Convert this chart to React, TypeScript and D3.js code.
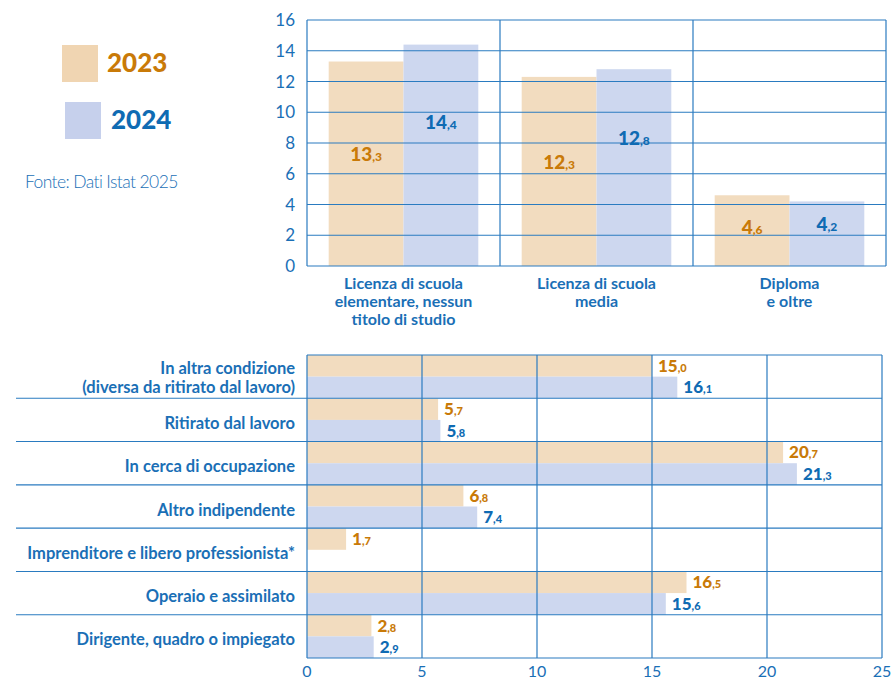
import React from "react";
import * as d3 from "d3";

const topCategories = [
  ["Licenza di scuola", "elementare, nessun", "titolo di studio"],
  ["Licenza di scuola", "media"],
  ["Diploma", "e oltre"],
];
const topValues2023 = [13.3, 12.3, 4.6];
const topValues2024 = [14.4, 12.8, 4.2];
const topTicks = [0, 2, 4, 6, 8, 10, 12, 14, 16];

const bottomCategories = [
  ["In altra condizione", "(diversa da ritirato dal lavoro)"],
  ["Ritirato dal lavoro"],
  ["In cerca di occupazione"],
  ["Altro indipendente"],
  ["Imprenditore e libero professionista*"],
  ["Operaio e assimilato"],
  ["Dirigente, quadro o impiegato"],
];
const bottomValues2023 = [15.0, 5.7, 20.7, 6.8, 1.7, 16.5, 2.8];
const bottomValues2024: (number | null)[] = [16.1, 5.8, 21.3, 7.4, null, 15.6, 2.9];
const bottomTicks = [0, 5, 10, 15, 20, 25];

const series = ["2023", "2024"];
const fill = { "2023": "#f2dcbf", "2024": "#cdd7ef" } as Record<string, string>;
const legendFill = { "2023": "#f0d5b2", "2024": "#c6d0ec" } as Record<string, string>;
const textCol = { "2023": "#c97a08", "2024": "#0f6bb3" } as Record<string, string>;
const grid = "#2a7bc0";
const blue = "#1a6fb6";
const FONT = "Lato, 'Open Sans', sans-serif";

function ValueLabel({ v, x, y, anchor, big, small, color }: any) {
  const s = v.toFixed(1).split(".");
  return (
    <text x={x} y={y} textAnchor={anchor} fill={color} fontFamily={FONT} fontWeight={900} fontSize={big}>
      <tspan>{s[0]}</tspan>
      <tspan fontSize={small}>{"," + s[1]}</tspan>
    </text>
  );
}

export default function App() {
  const yTop = d3.scaleLinear().domain([0, 16]).range([266, 20]);
  const xTop = d3.scaleBand<number>().domain(d3.range(topCategories.length)).range([307, 886]).padding(0);
  const xInner = d3.scaleBand<string>().domain(series).range([0, xTop.bandwidth()]).paddingInner(0).paddingOuter(0.29);
  const labelFrac = { "2023": 0.55, "2024": 0.65 } as Record<string, number>;

  const xBot = d3.scaleLinear().domain([0, 25]).range([307, 882]);
  const yBot = d3.scaleBand<number>().domain(d3.range(bottomCategories.length)).range([355, 658]).padding(0);
  const yInner = d3.scaleBand<string>().domain(series).range([0, yBot.bandwidth()]).padding(0);

  const topData = [topValues2023, topValues2024];
  const botData = [bottomValues2023, bottomValues2024];

  return (
    <div style={{ position: "fixed", left: 0, top: 0 }}>
      <svg width={894} height={679} style={{ display: "block", background: "#fff" }}>
        {/* Legend */}
        <rect x={62} y={45} width={36} height={37} fill={legendFill["2023"]} />
        <text x={107} y={72} fill={textCol["2023"]} fontFamily={FONT} fontWeight={900} fontSize={26}>2023</text>
        <rect x={65} y={102} width={36} height={37} fill={legendFill["2024"]} />
        <text x={111} y={129} fill={textCol["2024"]} fontFamily={FONT} fontWeight={900} fontSize={26}>2024</text>
        <text x={25} y={188} fill={blue} fontFamily={FONT} fontWeight={300} fontSize={17.5} letterSpacing={-0.6}>Fonte: Dati Istat 2025</text>

        {/* Top chart bars */}
        {topData.map((vals, si) =>
          vals.map((v, i) => (
            <rect key={`tb${si}-${i}`} x={xTop(i)! + xInner(series[si])!} y={yTop(v)} width={xInner.bandwidth()} height={yTop(0) - yTop(v)} fill={fill[series[si]]} />
          ))
        )}
        {topTicks.map((t) => (
          <line key={`tg${t}`} x1={307} x2={886} y1={yTop(t)} y2={yTop(t)} stroke={grid} strokeWidth={1.1} />
        ))}
        {d3.range(topCategories.length + 1).map((i) => {
          const x = i < topCategories.length ? xTop(i)! : xTop.range()[1];
          return <line key={`tv${i}`} x1={x} x2={x} y1={yTop(16)} y2={yTop(0)} stroke={grid} strokeWidth={1.2} />;
        })}
        {topTicks.map((t) => (
          <text key={`tt${t}`} x={295} y={yTop(t) + 6} textAnchor="end" fill={blue} fontFamily={FONT} fontSize={17}>{t}</text>
        ))}
        {topData.map((vals, si) =>
          vals.map((v, i) => (
            <ValueLabel key={`tl${si}-${i}`} v={v} x={xTop(i)! + xInner(series[si])! + xInner.bandwidth() / 2} y={yTop(v * labelFrac[series[si]]) + 7} anchor="middle" big={19} small={12} color={textCol[series[si]]} />
          ))
        )}
        {topCategories.map((lines, i) => (
          <text key={`tc${i}`} x={xTop(i)! + xTop.bandwidth() / 2} y={289} textAnchor="middle" fill={blue} fontFamily={FONT} fontWeight={700} fontSize={16}>
            {lines.map((l, k) => (
              <tspan key={k} x={xTop(i)! + xTop.bandwidth() / 2} dy={k === 0 ? 0 : 18}>{l}</tspan>
            ))}
          </text>
        ))}

        {/* Bottom chart bars */}
        {botData.map((vals, si) =>
          vals.map((v, i) =>
            v == null ? null : (
              <rect key={`bb${si}-${i}`} x={xBot(0)} y={yBot(i)! + yInner(series[si])!} width={xBot(v) - xBot(0)} height={yInner.bandwidth()} fill={fill[series[si]]} />
            )
          )
        )}
        {bottomTicks.map((t) => (
          <line key={`bg${t}`} x1={xBot(t)} x2={xBot(t)} y1={355} y2={658} stroke={grid} strokeWidth={1.2} />
        ))}
        <line x1={xBot(0)} x2={xBot(25)} y1={355} y2={355} stroke={grid} strokeWidth={1.2} />
        <line x1={xBot(0)} x2={xBot(25)} y1={658} y2={658} stroke={grid} strokeWidth={1.2} />
        {d3.range(1, bottomCategories.length).map((i) => (
          <line key={`br${i}`} x1={16} x2={xBot(25)} y1={yBot(i)!} y2={yBot(i)!} stroke={grid} strokeWidth={1.1} />
        ))}
        {bottomTicks.map((t) => (
          <text key={`bt${t}`} x={xBot(t)} y={677} textAnchor="middle" fill={blue} fontFamily={FONT} fontSize={16}>{t}</text>
        ))}
        {botData.map((vals, si) =>
          vals.map((v, i) =>
            v == null ? null : (
              <ValueLabel key={`bl${si}-${i}`} v={v} x={xBot(v) + 6} y={yBot(i)! + yInner(series[si])! + yInner.bandwidth() / 2 + 6} anchor="start" big={17} small={11} color={textCol[series[si]]} />
            )
          )
        )}
        {bottomCategories.map((lines, i) => {
          const cy = yBot(i)! + yBot.bandwidth() / 2;
          const y0 = lines.length > 1 ? cy - 3 : cy + 9;
          return (
            <text key={`bc${i}`} x={295} y={y0} textAnchor="end" fill={blue} fontFamily={FONT} fontWeight={700} fontSize={16.5}>
              {lines.map((l, k) => (
                <tspan key={k} x={295} dy={k === 0 ? 0 : 19}>{l}</tspan>
              ))}
            </text>
          );
        })}
      </svg>
    </div>
  );
}
